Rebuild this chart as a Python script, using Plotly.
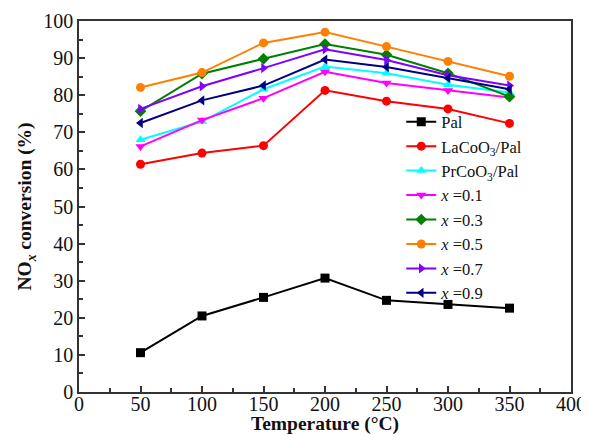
import plotly.graph_objects as go

temps = [50, 100, 150, 200, 250, 300, 350]
names = ["Pal", "LaCoO<sub>3</sub>/Pal", "PrCoO<sub>3</sub>/Pal", "<i>x</i> =0.1", "<i>x</i> =0.3",
         "<i>x</i> =0.5", "<i>x</i> =0.7", "<i>x</i> =0.9"]
pal = [10.6, 20.5, 25.5, 30.7, 24.7, 23.6, 22.6]
lacoo3 = [61.4, 64.4, 66.4, 81.3, 78.4, 76.3, 72.4]
prcoo3 = [68.0, 72.9, 81.6, 87.7, 85.9, 82.8, 80.7]
x01 = [66.2, 73.3, 79.2, 86.3, 83.3, 81.3, 79.4]
x03 = [75.7, 85.8, 89.8, 93.8, 90.9, 85.9, 79.6]
x05 = [82.1, 86.1, 94.1, 97.0, 93.1, 89.1, 85.1]
x07 = [76.3, 82.4, 87.3, 92.4, 89.5, 85.4, 82.6]
x09 = [72.5, 78.6, 82.6, 89.6, 87.6, 84.6, 81.6]

series = [pal, lacoo3, prcoo3, x01, x03, x05, x07, x09]
colors = ["#000000", "#FF0000", "#00FFFF", "#FF00FF", "#008000", "#FF8000", "#8000FF", "#000080"]
symbols = ["square", "circle", "triangle-up", "triangle-down", "diamond", "circle", "triangle-right", "triangle-left"]

fig = go.Figure()
for n, s, c, m in zip(names, series, colors, symbols):
    fig.add_trace(go.Scatter(x=temps, y=s, name=n, mode="lines+markers",
                             line=dict(color=c, width=2),
                             marker=dict(symbol=m, size=9, color=c)))

font = "Liberation Serif, Times New Roman, serif"
axis_common = dict(showline=True, linecolor="#333333", linewidth=1.5, mirror=True,
                   ticks="inside", ticklen=6, tickcolor="#333333", tickwidth=1.5,
                   showgrid=False, zeroline=False, automargin=False,
                   tickfont=dict(family=font, size=20, color="#111111"))
# page body has an 8px default margin; size the figure so it fills the 589x435 window
fig.update_layout(
    width=581, height=427,
    margin=dict(l=71, r=18, t=13, b=43),
    paper_bgcolor="white", plot_bgcolor="white",
    font=dict(family=font, color="#111111"),
    xaxis=dict(range=[0, 400], dtick=50, tick0=0, ticklabelstandoff=-7,
               minor=dict(dtick=25, ticks="inside", ticklen=4, tickcolor="#333333", tickwidth=1.5),
               title=dict(text="<b>Temperature (°C)</b>", font=dict(family=font, size=19.5), standoff=8),
               **axis_common),
    yaxis=dict(range=[0, 100], dtick=10, tick0=0,
               minor=dict(dtick=5, ticks="inside", ticklen=4, tickcolor="#333333", tickwidth=1.5),
               title=dict(text="<b>NO<sub><i>x</i></sub> conversion (%)</b>", font=dict(family=font, size=19.5), standoff=6),
               **axis_common),
    legend=dict(x=0.655, y=0.775, xanchor="left", yanchor="top",
                bgcolor="rgba(0,0,0,0)", font=dict(family=font, size=16.5, color="#111111"),
                tracegroupgap=0, itemwidth=30),
)
fig.write_html("out.html")
